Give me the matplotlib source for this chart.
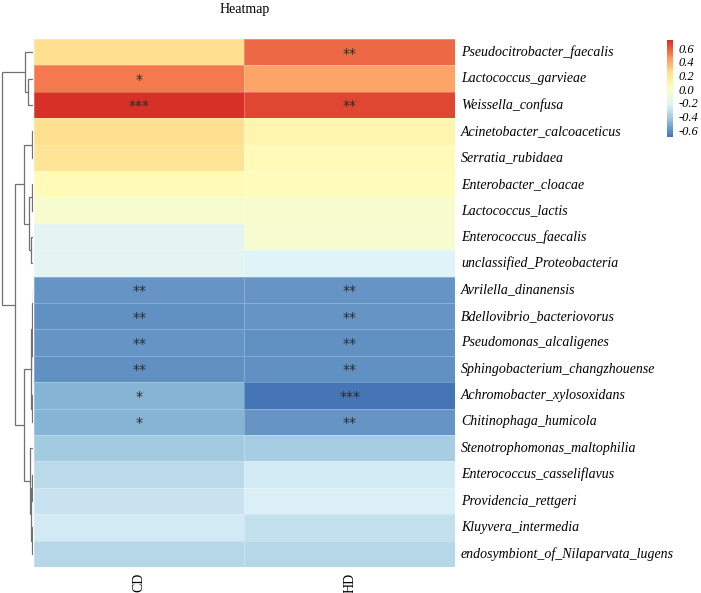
import numpy as np
import matplotlib
matplotlib.use("Agg")
import matplotlib.pyplot as plt
from matplotlib.colors import LinearSegmentedColormap

plt.rcParams['font.family'] = ['Liberation Serif', 'DejaVu Serif']
plt.rcParams['axes.unicode_minus'] = False

# ---------------- data ----------------
taxa = ["Pseudocitrobacter_faecalis", "Lactococcus_garvieae", "Weissella_confusa",
        "Acinetobacter_calcoaceticus", "Serratia_rubidaea", "Enterobacter_cloacae",
        "Lactococcus_lactis", "Enterococcus_faecalis", "unclassified_Proteobacteria",
        "Avrilella_dinanensis", "Bdellovibrio_bacteriovorus", "Pseudomonas_alcaligenes",
        "Sphingobacterium_changzhouense", "Achromobacter_xylosoxidans", "Chitinophaga_humicola",
        "Stenotrophomonas_maltophilia", "Enterococcus_casseliflavus", "Providencia_rettgeri",
        "Kluyvera_intermedia", "endosymbiont_of_Nilaparvata_lugens"]
groups = ["CD", "HD"]
cd_values = [0.25, 0.53, 0.72, 0.24, 0.21, 0.04, -0.06, -0.20, -0.19,
             -0.60, -0.61, -0.60, -0.61, -0.50, -0.50, -0.41, -0.34, -0.29, -0.27, -0.35]
hd_values = [0.57, 0.42, 0.65, 0.085, 0.05, 0.03, -0.06, -0.06, -0.23,
             -0.60, -0.60, -0.61, -0.61, -0.70, -0.60, -0.40, -0.265, -0.235, -0.31, -0.35]
cd_sig = ["", "*", "***", "", "", "", "", "", "", "**", "**", "**", "**", "*", "*",
          "", "", "", "", ""]
hd_sig = ["**", "", "**", "", "", "", "", "", "", "**", "**", "**", "**", "***", "**",
          "", "", "", "", ""]
cbar_ticks = [-0.6, -0.4, -0.2, 0.0, 0.2, 0.4, 0.6]

link_a = [1, 0, 3, 5, 7, 23, 22, 9, 11, 27, 13, 29, 16, 18, 32, 15, 31, 26, 21]
link_b = [2, 20, 4, 6, 8, 24, 25, 10, 12, 28, 14, 30, 17, 19, 33, 34, 35, 36, 37]
link_h = [0.29, 0.465, 0.03, 0.04, 0.12, 0.25, 0.50, 0.015, 0.02, 0.035, 0.075, 0.09,
          0.05, 0.06, 0.10, 0.17, 0.50, 1.05, 1.82]

# ---------------- figure ----------------
W, H = 701, 593
fig = plt.figure(figsize=(W / 100, H / 100), dpi=100)

def box(x0, y0, x1, y1):
    return [x0 / W, 1 - y1 / H, (x1 - x0) / W, (y1 - y0) / H]

hm_x0, hm_y0, hm_x1, hm_y1 = 34, 39, 455, 567

data = np.column_stack([cd_values, hd_values])
n = data.shape[0]
pal = ["#4575B4", "#91BFDB", "#E0F3F8", "#FFFFBF", "#FEE090", "#FC8D59", "#D73027"]
cmap = LinearSegmentedColormap.from_list("pheat", pal, N=100)
vmin, vmax = data.min(), data.max()

ax = fig.add_axes(box(hm_x0, hm_y0, hm_x1, hm_y1))
mesh = ax.pcolormesh(np.arange(3), np.arange(n + 1), data, cmap=cmap, vmin=vmin, vmax=vmax,
                     edgecolors=(1, 1, 1, 0.25), linewidth=0.6)
ax.set_xlim(0, 2)
ax.set_ylim(n, 0)
for s in ax.spines.values():
    s.set_visible(False)
ax.set_yticks([])
ax.set_xticks(np.arange(2) + 0.5)
ax.set_xticklabels(groups, rotation=90, fontsize=10)
ax.tick_params(axis='x', length=0, pad=4)
for j, sig in enumerate([cd_sig, hd_sig]):
    for i, s in enumerate(sig):
        if s:
            ax.text(j + 0.5, i + 0.55, s, ha='center', va='center', fontsize=10,
                    color='#2b2b2b', family='DejaVu Sans')

# row labels
for i, t in enumerate(taxa):
    ax.text(2.0 + 6 / (hm_x1 - hm_x0) * 2, i + 0.5, t, ha='left', va='center',
            fontsize=10, style='italic', clip_on=False)

# title
fig.text((hm_x0 + hm_x1) / 2 / W, 1 - 3 / H, "Heatmap", ha='center', va='top', fontsize=10)

# dendrogram
dax = fig.add_axes(box(0, hm_y0, hm_x0 - 1, hm_y1))
root_h = max(link_h)
dax.set_xlim(root_h * (hm_x0 - 1) / (hm_x0 - 2.7), 0)
dax.set_ylim(n, 0)
dax.axis('off')
pos = {i: i + 0.5 for i in range(n)}
hgt = {i: 0.0 for i in range(n)}
for k, (a, b, h) in enumerate(zip(link_a, link_b, link_h)):
    ya, yb = pos[a], pos[b]
    dax.plot([hgt[a], h, h, hgt[b]], [ya, ya, yb, yb], color='#707070', lw=0.9,
             solid_joinstyle='miter')
    pos[n + k] = (ya + yb) / 2
    hgt[n + k] = h

# colorbar
cax = fig.add_axes(box(667, 40, 673, 137))
cb = fig.colorbar(mesh, cax=cax, ticks=cbar_ticks)
cb.outline.set_visible(False)
cax.tick_params(length=0, pad=4)
cax.set_yticklabels([f"{t:.1f}" for t in cbar_ticks], fontsize=9, style='italic')

fig.savefig("out.png", dpi=100)
